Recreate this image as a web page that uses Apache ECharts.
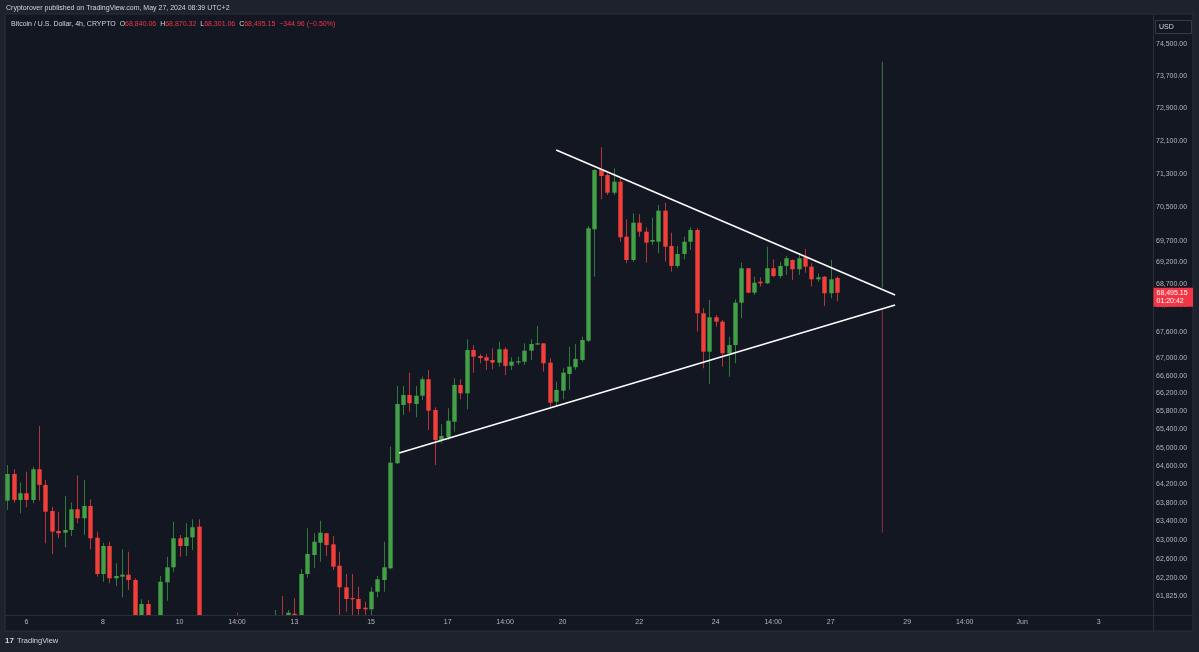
<!DOCTYPE html>
<html><head><meta charset="utf-8">
<script src="https://cdn.jsdelivr.net/npm/echarts@6/dist/echarts.min.js"></script>
<style>html,body{margin:0;padding:0;background:#1e222d;}#c{width:1199px;height:652px;}</style>
</head><body><div id="c"></div>
<script>
// [open, close, low, high] per 4h candle (BTC/USD)
const candles = [
[63845,64424,63644,64620],[64424,63860,63802,64526],[63860,64005,63573,64234],[64005,63860,63702,64474],
[63860,64526,63789,64583],[64526,64185,63845,65478],[64185,63607,62931,64293],[63622,63179,62703,63715],
[63194,63144,63037,63607],[63157,63215,62846,63946],[63215,63659,63087,63802],[63659,63466,63358,64395],
[63466,63730,63108,64293],[63730,63037,62803,63875],[63050,62281,62224,63179],[62281,62873,62118,62943],
[62873,62190,62085,62965],[62190,62239,62028,62506],[62224,62266,61791,62803],[62266,62154,61944,62752],
[62154,61300,61200,62190],[61350,61652,61100,61750],[61652,61300,61150,61735],[61300,61250,60900,61380],
[61250,62118,61150,62239],[62106,62422,61720,62646],[62422,63037,62329,63393],[63037,62873,62646,63108],
[62873,63058,62661,63358],[63058,63273,62788,63444],[63287,61000,60800,63444],[61000,60850,60650,61250],
[60850,60950,60700,61200],[60950,60700,60600,61150],[60700,60900,60500,61100],[60900,61050,60800,61300],
[61050,60950,60850,61470],[60950,61100,60800,61300],[61100,60900,60750,61250],[60900,61050,60800,61200],
[61050,60850,60700,61300],[60850,61000,60750,61250],[61000,61100,60900,61527],[61100,60950,60850,61818],
[61200,61471,61100,61527],[61450,61300,61200,61770],[61350,62281,61300,62386],[62281,62703,62200,63251],
[62682,62965,62401,63144],[62943,63157,62540,63414],[63144,62894,62661,63151],[62909,62435,62365,63087],
[62456,62000,61400,62752],[62000,61756,61492,62281],[61777,61750,61420,62281],[61756,61548,61400,62014],
[61575,61542,61410,61700],[61542,61908,61410,62000],[61908,62169,61791,62239],[62154,62422,61908,62965],
[62401,64671,62380,65022],[64658,65967,64640,66370],[65944,66168,65722,66370],[66168,65983,65795,66669],
[65967,66152,65671,66370],[66152,66521,66056,66579],[66521,65817,65390,66730],[65833,65169,64620,65893],
[65169,65257,65096,65516],[65228,65595,65169,65871],[65573,66392,65352,66543],[66392,66206,66072,66521],
[66206,67183,65849,67426],[67183,67031,66669,67296],[67046,67001,66881,67092],[67017,66940,66730,67092],
[66956,66895,66746,67221],[66895,67199,66805,67371],[67199,66821,66617,67244],[66827,66918,66730,67017],
[66911,66927,66843,67031],[66918,67167,66843,67334],[67167,67319,66956,67426],[67319,67334,67296,67730],
[67334,66881,66692,67334],[66895,65996,65907,66994],[66018,66280,65922,66467],[66264,66669,66072,66768],
[66640,66805,66280,67258],[66791,66979,66730,67319],[66956,67410,66918,67486],[67394,70005,67360,70060],
[69982,71399,68869,71416],[71416,71254,70696,71950],[71278,70853,70798,71319],[70853,71117,70798,71440],
[71117,69793,69689,71223],[69807,69259,69182,70219],[69259,70138,69219,70361],[70138,69925,69807,70345],
[69925,69666,69196,70029],[69689,69729,69611,70259],[69689,70423,69416,70559],[70423,69571,69219,70614],
[69588,69119,68986,69901],[69119,69400,69066,69588],[69400,69689,69275,69807],[69689,69965,69494,70029],
[69965,68022,67600,70005],[68022,67144,66768,68137],[67144,67930,66415,68328],[67930,67829,67715,67983],
[67829,67108,66805,67868],[67108,67296,66579,67486],[67296,68266,66881,68344],[68266,69066,67907,69196],
[69066,68497,68484,69066],[68497,68729,68444,68869],[68752,68715,68637,68854],[68715,69066,68699,69571],
[69066,68885,68854,69275],[68885,69119,68831,69219],[69119,69299,68909,69353],[69259,69042,68792,69275],
[69042,69299,68909,69416],[69322,69103,68963,69510],[69103,68808,68637,69182],[68808,68854,68752,68947],
[68869,68484,68190,68885],[68484,68808,68367,69259],[68840.06,68495.15,68301.06,68870.32]
];
const tickIndex = [3,15,27,36,45,57,69,78,87,99,111,120,129,141,150,159,171];
const tickText  = ['6','8','10','14:00','13','15','17','14:00','20','22','24','14:00','27','29','14:00','Jun','3'];
const priceTicks = [74500,73700,72900,72100,71300,70500,69700,69200,68700,68200,67600,67000,66600,66200,65800,65400,65000,64600,64200,63800,63400,63000,62600,62200,61825];
const upperLine = [[86.0,71884],[139.1,68444]];
const lowerLine = [[61.4,64883],[139.1,68213]];
const greenRange = [[137.1,74063],[137.1,68611]];
const redRange = [[137.1,68094],[137.1,63156]];
const lastPrice = 68495.15;
const countdown = '01:20:42';

const N = 180;
const start = Date.UTC(2024,4,5,12,0);
const categories = [];
for (let i = 0; i < N; i++) {
  const d = new Date(start + i * 4 * 3600e3);
  categories.push(d.toISOString().slice(0,16).replace('T',' '));
}
const fmt = v => Number(v).toLocaleString('en-US',{minimumFractionDigits:2,maximumFractionDigits:2});
const UP = '#43a047', DOWN = '#f23f3a';
const WICK_UP = '#2f7a3a', WICK_DN = '#b8333a';
const FONT = 'Liberation Sans';

function renderCandle(params, api) {
  const i = api.value(0);
  const o = api.value(1), c = api.value(2), l = api.value(3), h = api.value(4);
  const po = api.coord([i, o]), pc = api.coord([i, c]);
  const yl = api.coord([i, l])[1], yh = api.coord([i, h])[1];
  const up = c >= o;
  const x = po[0];
  const bw = 4.4;
  const top = Math.min(po[1], pc[1]), bot = Math.max(po[1], pc[1]);
  const wx = Math.round(x) + 0.5;
  return {type:'group', children:[
    {type:'line', shape:{x1:wx, y1:yh, x2:wx, y2:yl}, style:{stroke: up ? WICK_UP : WICK_DN, lineWidth:1}},
    {type:'rect', shape:{x: wx - bw/2, y: top, width: bw, height: Math.max(bot - top, 1.2)}, style:{fill: up ? UP : DOWN}}
  ]};
}

const chart = echarts.init(document.getElementById('c'), null, {renderer:'canvas'});
const lineSeries = (data, color, width) => ({
  type:'line', xAxisIndex:1, yAxisIndex:0, data, symbol:'none', silent:true,
  lineStyle:{color, width}, clip:false, z:5
});
const baseGraphics = [
  {id:'pane', type:'rect', z:-5, silent:true, shape:{x:5,y:14,width:1188,height:617}, style:{fill:'#131722', stroke:'#2a2e39', lineWidth:1}},
  {id:'vsep', type:'line', z:-4, silent:true, shape:{x1:1153.5,y1:14,x2:1153.5,y2:631}, style:{stroke:'#2a2e39', lineWidth:1}},
  {id:'hsep', type:'line', z:-4, silent:true, shape:{x1:5,y1:615.5,x2:1193,y2:615.5}, style:{stroke:'#2a2e39', lineWidth:1}},
  {id:'usdbox', type:'rect', z:10, silent:true, shape:{x:1155.5,y:20.5,width:36,height:13}, style:{fill:'#131722', stroke:'#363a45', lineWidth:1}},
  {id:'usd', type:'text', z:11, silent:true, x:1159, y:27, style:{text:'USD', fill:'#d1d4dc', font:'7px "Liberation Sans"', verticalAlign:'middle'}},
  {id:'hdr', type:'text', z:11, silent:true, x:6, y:8.5, style:{text:'Cryptorover published on TradingView.com, May 27, 2024 08:39 UTC+2', fill:'#d1d4dc', font:'7px "Liberation Sans"', verticalAlign:'middle'}},
  {id:'legend', type:'text', z:11, silent:true, x:11, y:24.5, style:{
    text:'{w|Bitcoin / U.S. Dollar, 4h, CRYPTO}  {w|O}{r|68,840.06}  {w|H}{r|68,870.32}  {w|L}{r|68,301.06}  {w|C}{r|68,495.15}  {r|\u2212344.96 (\u22120.50%)}',
    font:'7px "Liberation Sans"', verticalAlign:'middle',
    rich:{w:{fill:'#d1d4dc', fontSize:7, fontFamily:FONT}, r:{fill:'#f23645', fontSize:7, fontFamily:FONT}}}},
  {id:'logo1', type:'text', z:11, silent:true, x:5, y:641, style:{text:'17', fill:'#d1d4dc', font:'bold 8px "Liberation Sans"', verticalAlign:'middle'}},
  {id:'logo2', type:'text', z:11, silent:true, x:17, y:641, style:{text:'TradingView', fill:'#d1d4dc', font:'7.5px "Liberation Sans"', verticalAlign:'middle'}}
];
chart.setOption({
  backgroundColor:'#1e222d',
  animation:false,
  textStyle:{fontFamily:FONT},
  grid:{left:4, right:46, top:14, bottom:37},
  xAxis:[
    {type:'category', data:categories, boundaryGap:true,
     axisLine:{show:false}, axisTick:{show:false}, splitLine:{show:false},
     axisLabel:{interval:(i)=>tickIndex.includes(i),
       formatter:(v,i)=>{const k=tickIndex.indexOf(i); return k>=0?tickText[k]:'';},
       color:'#b2b5be', fontSize:7, margin:4, fontFamily:FONT}},
    {type:'value', min:-0.5, max:N-0.5, show:false}
  ],
  yAxis:[{type:'log', logBase:10, min:61423, max:75267, position:'right',
     axisLine:{show:false}, axisTick:{show:false}, splitLine:{show:false},
     axisLabel:{customValues:priceTicks, formatter:v=>fmt(v), color:'#b2b5be', fontSize:7, margin:3, fontFamily:FONT}}],
  graphic: baseGraphics,
  series:[
    {type:'custom', xAxisIndex:0, yAxisIndex:0, clip:true, silent:true,
     data: candles.map((d, i) => [i, d[0], d[1], d[2], d[3]]),
     encode:{x:0, y:[1,2,3,4]}, renderItem: renderCandle},
    lineSeries(upperLine, '#ffffff', 1.6),
    lineSeries(lowerLine, '#ffffff', 1.6),
    lineSeries(greenRange, '#3d7a4c', 1),
    lineSeries(redRange, '#962c40', 1)
  ]
});
// last-price tag on the price scale, positioned through the y axis scale
const py = chart.convertToPixel({yAxisIndex:0}, lastPrice);
chart.setOption({graphic:[
  {id:'pricebox', type:'rect', z:20, silent:true, shape:{x:1153.5, y:py - 5, width:39.5, height:19}, style:{fill:'#f23645'}},
  {id:'pricetxt', type:'text', z:21, silent:true, x:1156.5, y:py, style:{text:fmt(lastPrice), fill:'#ffffff', font:'7px "Liberation Sans"', verticalAlign:'middle'}},
  {id:'cdtxt', type:'text', z:21, silent:true, x:1156.5, y:py + 8.5, style:{text:countdown, fill:'#ffffff', font:'7px "Liberation Sans"', verticalAlign:'middle'}}
]});
</script></body></html>
